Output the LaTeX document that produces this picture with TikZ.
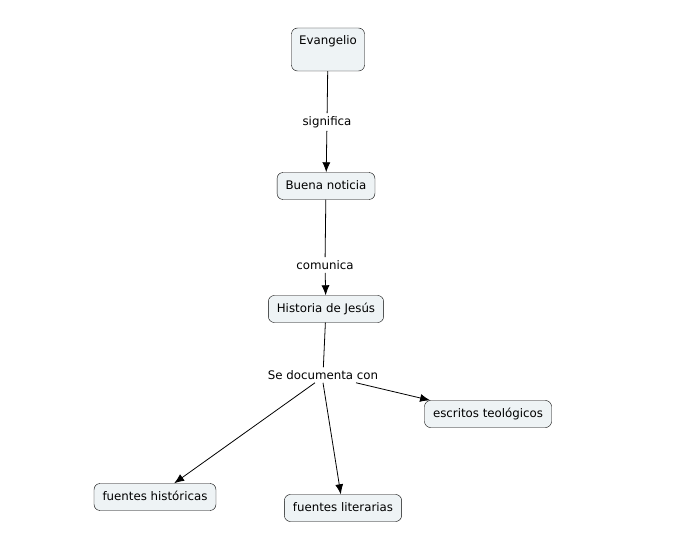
\documentclass[tikz,border=0pt]{standalone}
\usepackage{fontspec}
\setmainfont{DejaVu Sans}
\usetikzlibrary{arrows.meta}
\definecolor{conceptfill}{RGB}{238,243,245}
\tikzset{concept/.style={draw,rounded corners=6pt,fill=conceptfill,font=\fontsize{11.8}{13}\selectfont,
        text height=9pt,text depth=3pt,inner xsep=8.5pt,inner ysep=7.5pt},
    linkword/.style={font=\fontsize{11.8}{13}\selectfont,inner sep=3pt},
    link/.style={-{Latex[length=10pt,width=8pt]},line width=0.8pt}}

\begin{document}
\begin{tikzpicture}[x=1pt,y=-1pt]
    \useasboundingbox[fill=white] (0,0) rectangle (688,559);
        \node[concept,text depth=18pt,inner ysep=8pt,inner xsep=5pt,minimum width=73pt] (evangelio) at (328,49.5) {Evangelio};
        \node[concept] (buena) at (326,186) {Buena noticia};
        \node[concept] (historia) at (326,309) {Historia de Jesús};
        \node[concept] (escritos) at (488,414) {escritos teológicos};
        \node[concept] (fhist) at (155,497) {fuentes históricas};
        \node[concept] (flit) at (343,508) {fuentes literarias};

        \node[linkword] (significa) at (327,122) {significa};
        \node[linkword] (comunica) at (325,265) {comunica};
        \node[linkword] (sedoc) at (323,375) {Se documenta con};

        \draw[line width=0.8pt] (evangelio) -- (significa);
        \draw[link] (significa) -- (buena);
        \draw[line width=0.8pt] (buena) -- (comunica);
        \draw[link] (comunica) -- (historia);
        \draw[line width=0.8pt] (historia) -- (sedoc);
        \draw[link] ([xshift=-8pt]sedoc.south) -- (fhist);
        \draw[link] (sedoc.south) -- (flit);
        \draw[link] ([xshift=33pt]sedoc.south) -- (escritos);
    \end{tikzpicture}
\end{document}
